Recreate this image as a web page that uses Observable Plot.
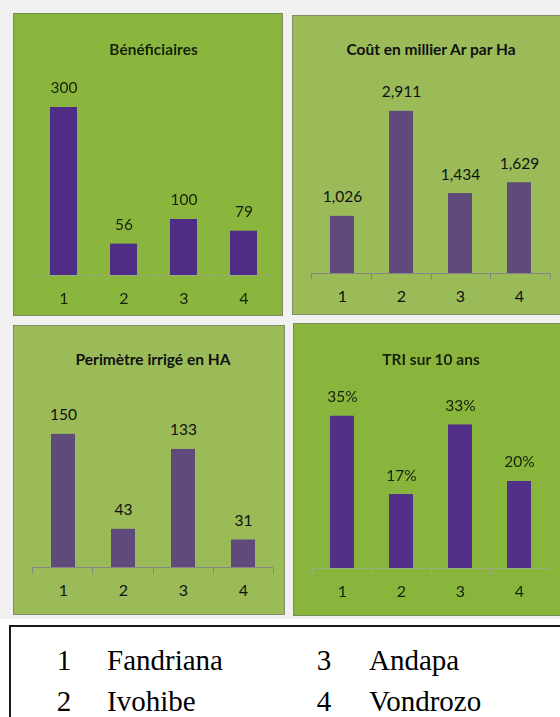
<!DOCTYPE html>
<html>
<head>
<meta charset="utf-8">
<script src="https://cdn.jsdelivr.net/npm/d3@7"></script>
<script src="https://cdn.jsdelivr.net/npm/@observablehq/plot@0.6"></script>
<style>
  html, body { margin: 0; padding: 0; background: #ffffff; }
  #page { position: relative; width: 560px; height: 717px; overflow: hidden; background: #ffffff; }
  #sheet { position: absolute; left: 0; top: 0; width: 560px; height: 619px; background: #f1f1f1; }
  .panel { position: absolute; overflow: hidden; }
  .panel svg { display: block; }
  #legend {
    position: absolute; left: 9px; top: 625px; width: 600px; height: 120px;
    border: 2px solid #1a1a1a; box-sizing: border-box; background: #ffffff;
    font-family: "Liberation Serif", "Times New Roman", serif; font-size: 29px; color: #000;
  }
  #legend span { position: absolute; line-height: 29px; white-space: nowrap; }
  #legend .num { width: 30px; margin-left: -15px; text-align: center; }
</style>
</head>
<body>
<div id="page">
  <div id="sheet"></div>
  <div id="legend"></div>
</div>
<script>
// Sites compared in the four panels (numbered 1 to 4 on each x axis)
const categories = ["1", "2", "3", "4"];
const communes = ["Fandriana", "Ivohibe", "Andapa", "Vondrozo"];

// Series values, one array per indicator
const beneficiaires = [300, 56, 100, 79];
const coutMillierArParHa = [1026, 2911, 1434, 1629];
const perimetreIrrigueHa = [150, 43, 133, 31];
const triSurDixAns = [35, 17, 33, 20];

// Panel titles
const titles = [
  "Bénéficiaires",
  "Coût en millier Ar par Ha",
  "Perimètre irrigé en HA",
  "TRI sur 10 ans"
];

const page = document.getElementById("page");

// Category axis drawn the spreadsheet way: a baseline with ticks between the categories
function categoryAxis(color) {
  return (index, scales, values, dimensions) => {
    const {width, height, marginLeft, marginRight, marginBottom} = dimensions;
    const x0 = marginLeft, x1 = width - marginRight;
    const step = (x1 - x0) / categories.length;
    const y0 = height - marginBottom + 0.5;
    const g = d3.create("svg:g").attr("stroke", color).attr("stroke-width", 1).attr("fill", "none");
    g.append("line").attr("x1", x0).attr("x2", x1).attr("y1", y0).attr("y2", y0);
    d3.range(categories.length + 1).forEach(i => {
      const xi = Math.round(x0 + i * step) + 0.5;
      g.append("line").attr("x1", xi).attr("x2", xi).attr("y1", y0).attr("y2", y0 + 6);
    });
    return g.node();
  };
}

function panel({title, values, format, box, margins, yMax, padding, background, barFill, ink, axisColor, soft}) {
  const rows = categories.map((k, i) => ({k, v: values[i]}));
  const [left, top, width, height, titleY] = box;
  const [mt, mr, mb, ml] = margins;
  const chart = Plot.plot({
    width, height,
    marginTop: mt, marginRight: mr, marginBottom: mb, marginLeft: ml,
    style: {
      background,
      fontFamily: "Lato, 'Open Sans', sans-serif",
      overflow: "visible"
    },
    x: {domain: categories, paddingInner: padding, paddingOuter: padding / 2, axis: null},
    y: {domain: [0, yMax], axis: null},
    marks: [
      Plot.barY(rows, {x: "k", y: "v", fill: barFill}),
      categoryAxis(axisColor),
      Plot.text(rows, {x: "k", y: "v", text: d => format(d.v), dy: -19, fontSize: 15.5, fill: ink}),
      Plot.text(categories, {x: d => d, frameAnchor: "bottom", dy: 28, text: d => d, fontSize: 16, fill: ink}),
      Plot.text([title], {frameAnchor: "top", dy: titleY - mt, text: d => d, fontSize: 15.5, fontWeight: "bold", fill: ink})
    ]
  });
  const div = document.createElement("div");
  div.className = "panel";
  Object.assign(div.style, {
    left: left + "px", top: top + "px", width: width + "px", height: height + "px"
  });
  if (soft) chart.style.filter = "blur(0.55px)";
  div.appendChild(chart);
  const edge = document.createElement("div");
  Object.assign(edge.style, {
    position: "absolute", left: 0, top: 0, right: 0, bottom: 0,
    boxShadow: "inset 0 0 0 1px rgba(110,110,110,0.6)", pointerEvents: "none"
  });
  div.appendChild(edge);
  page.appendChild(div);
}

const plain = d3.format(",");

panel({
  title: titles[0], values: beneficiaires, format: plain,
  box: [13, 13, 270, 303, 30], margins: [66, 10, 41, 20], yMax: 350, padding: 0.55,
  background: "#8bb63e", barFill: "#4f2d86", ink: "#17220c", axisColor: "#9aab80", soft: true
});
panel({
  title: titles[1], values: coutMillierArParHa, format: plain,
  box: [292, 15, 270, 300, 28], margins: [63, 12, 42, 19], yMax: 3500, padding: 0.6,
  background: "#9bbb59", barFill: "#604a7b", ink: "#111111", axisColor: "#868686", soft: false
});
panel({
  title: titles[2], values: perimetreIrrigueHa, format: plain,
  box: [13, 325, 272, 290, 28], margins: [100, 12, 48, 19], yMax: 160, padding: 0.6,
  background: "#9bbb59", barFill: "#604a7b", ink: "#111111", axisColor: "#868686", soft: false
});
panel({
  title: titles[3], values: triSurDixAns, format: d => d + "%",
  box: [293, 323, 270, 293, 30], margins: [71, 14, 48, 19], yMax: 40, padding: 0.6,
  background: "#8ab53d", barFill: "#52308a", ink: "#17220c", axisColor: "#9aab80", soft: true
});

// Key to the site numbers, two rows of two entries
const legend = document.getElementById("legend");
const numX = [53, 53, 313, 313];
const nameX = [96, 96, 358, 358];
const rowTop = [19, 60, 19, 60];
communes.forEach((name, i) => {
  const n = document.createElement("span");
  n.className = "num";
  n.textContent = categories[i];
  n.style.left = numX[i] + "px";
  n.style.top = rowTop[i] + "px";
  legend.appendChild(n);
  const t = document.createElement("span");
  t.textContent = name;
  t.style.left = nameX[i] + "px";
  t.style.top = rowTop[i] + "px";
  legend.appendChild(t);
});
</script>
</body>
</html>
